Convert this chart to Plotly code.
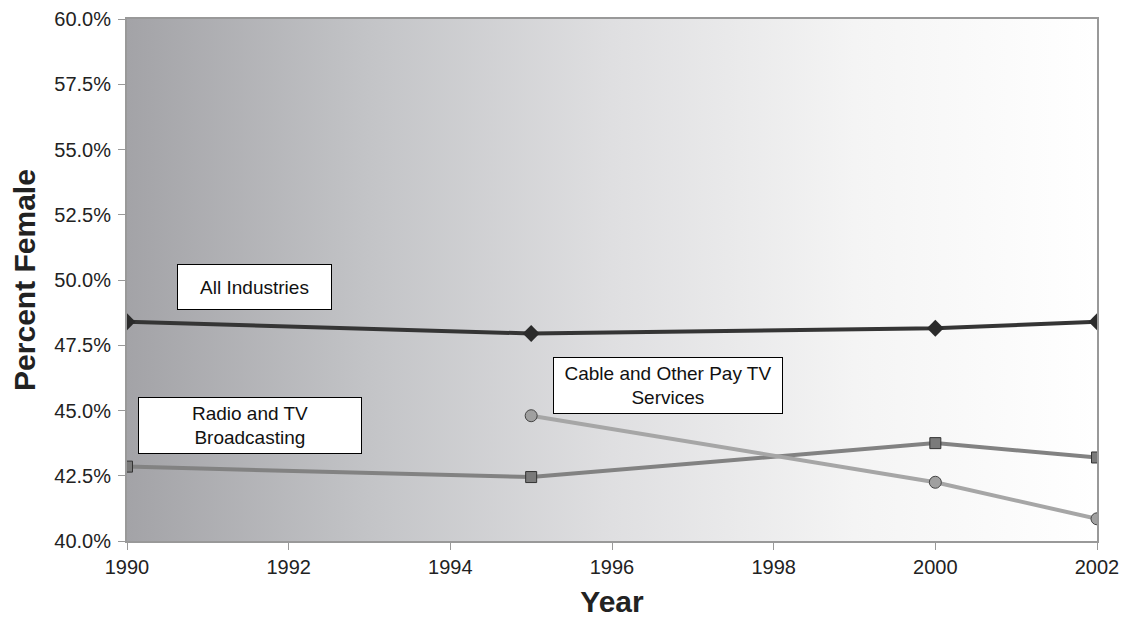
import plotly.graph_objects as go

years_all = [1990, 1995, 2000, 2002]
all_industries = [48.4, 47.95, 48.15, 48.4]

years_radio = [1990, 1995, 2000, 2002]
radio_tv = [42.85, 42.45, 43.75, 43.2]

years_cable = [1995, 2000, 2002]
cable_tv = [44.8, 42.25, 40.85]

y_ticks = [40, 42.5, 45, 47.5, 50, 52.5, 55, 57.5, 60]
x_ticks = [1990, 1992, 1994, 1996, 1998, 2000, 2002]

fig = go.Figure()

# gradient background of plot area
fig.add_trace(go.Scatter(
    x=[1990, 2002, 2002, 1990, 1990], y=[40, 40, 60, 60, 40],
    mode='none', fill='toself', hoverinfo='skip', showlegend=False,
    fillgradient=dict(type='horizontal',
                      colorscale=[[0, '#a3a3a7'], [0.25, '#c3c4c7'], [0.5, '#dfdfe1'],
                                  [0.75, '#f4f4f4'], [1, '#ffffff']]),
))

fig.add_trace(go.Scatter(x=years_all, y=all_industries, mode='lines+markers', name='All Industries',
                         line=dict(color='#353535', width=4),
                         marker=dict(symbol='diamond', size=13, color='#2b2b2b')))
fig.add_trace(go.Scatter(x=years_radio, y=radio_tv, mode='lines+markers', name='Radio and TV Broadcasting',
                         line=dict(color='#828282', width=4),
                         marker=dict(symbol='square', size=11, color='#7a7a7a',
                                     line=dict(color='#333333', width=1))))
fig.add_trace(go.Scatter(x=years_cable, y=cable_tv, mode='lines+markers', name='Cable and Other Pay TV Services',
                         line=dict(color='#a6a6a6', width=4),
                         marker=dict(symbol='circle', size=12, color='#a0a0a0',
                                     line=dict(color='#444444', width=1))))

box = dict(showarrow=False, bgcolor='white', bordercolor='black', borderwidth=1,
           font=dict(size=19, color='#111111', family='Liberation Sans, Arial'))
fig.add_annotation(x=1991.58, y=49.73, text='All Industries', width=151, height=42, **box)
fig.add_annotation(x=1991.52, y=44.44, text='Radio and TV<br>Broadcasting', width=220, height=53, **box)
fig.add_annotation(x=1996.69, y=45.94, text='Cable and Other Pay TV<br>Services', width=226, height=53, **box)

# page body has an 8px margin, so the figure is sized/offset to compensate
fig.update_layout(
    width=1124, height=610,
    margin=dict(l=119, r=35, t=11, b=77),
    paper_bgcolor='white', plot_bgcolor='white',
    showlegend=False,
    font=dict(family='Liberation Sans, Arial', color='#222222'),
    xaxis=dict(range=[1990, 2002], tickvals=x_ticks, ticks='outside', ticklen=7, tickcolor='#999999',
               showgrid=False, zeroline=False, showline=True, linecolor='#999999', linewidth=2,
               tickfont=dict(size=20), mirror=True, automargin=False,
               title=dict(text='<b>Year</b>', font=dict(size=30))),
    yaxis=dict(range=[40, 60], tickvals=y_ticks, ticktext=[f'{v:.1f}%' for v in y_ticks],
               ticks='outside', ticklen=7, tickcolor='#999999', ticklabelstandoff=3,
               showgrid=True, gridcolor='#b4b4b4', gridwidth=1, zeroline=False,
               showline=True, linecolor='#999999', linewidth=2, mirror=True,
               tickfont=dict(size=20), automargin=False,
               title=dict(text='<b>Percent Female</b>', font=dict(size=30))),
)

fig.write_html("out.html")
